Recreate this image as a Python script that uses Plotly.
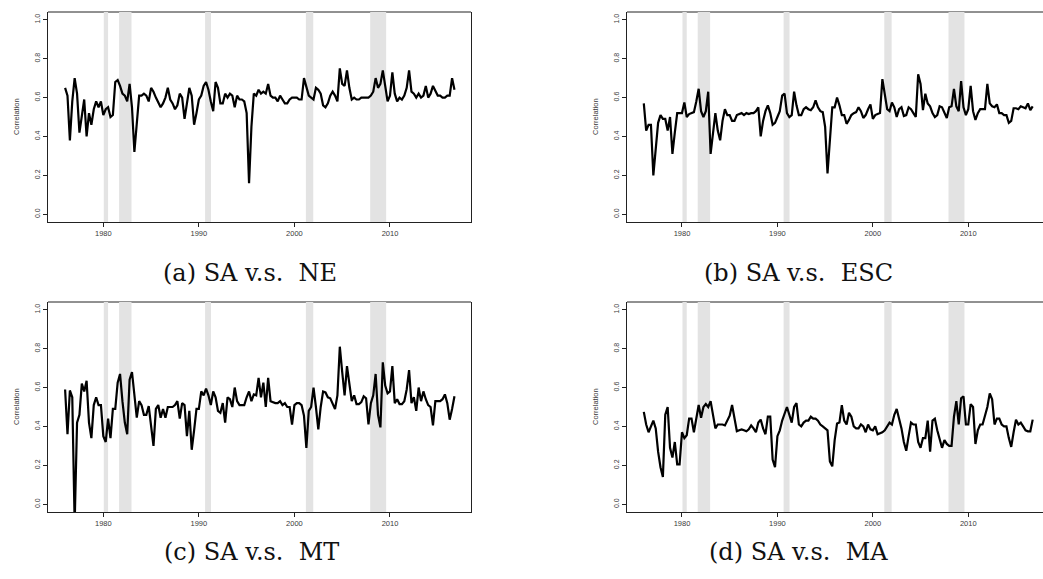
import numpy as np
import plotly.graph_objects as go

# Quarterly observations, 1976Q1 - 2016Q4
quarters = np.arange(1976.0, 2017.0, 0.25)

sa_ne = [0.65, 0.61, 0.38, 0.58, 0.70, 0.62, 0.42, 0.50, 0.59, 0.40,
         0.52, 0.46, 0.54, 0.58, 0.55, 0.58, 0.51, 0.54, 0.55, 0.50,
         0.51, 0.68, 0.69, 0.66, 0.62, 0.61, 0.58, 0.67, 0.55, 0.32,
         0.48, 0.61, 0.61, 0.62, 0.61, 0.58, 0.65, 0.63, 0.60, 0.57,
         0.55, 0.57, 0.60, 0.65, 0.59, 0.57, 0.54, 0.56, 0.62, 0.60,
         0.49, 0.57, 0.65, 0.61, 0.46, 0.52, 0.59, 0.61, 0.66, 0.68,
         0.64, 0.58, 0.53, 0.68, 0.65, 0.57, 0.57, 0.62, 0.60, 0.62,
         0.61, 0.55, 0.61, 0.59, 0.59, 0.58, 0.52, 0.16, 0.45, 0.62,
         0.61, 0.64, 0.62, 0.63, 0.62, 0.67, 0.61, 0.60, 0.60, 0.58,
         0.61, 0.59, 0.57, 0.57, 0.59, 0.60, 0.60, 0.60, 0.59, 0.59,
         0.70, 0.66, 0.61, 0.60, 0.59, 0.65, 0.64, 0.62, 0.56, 0.55,
         0.57, 0.61, 0.63, 0.61, 0.58, 0.75, 0.67, 0.66, 0.74, 0.65,
         0.59, 0.60, 0.59, 0.59, 0.60, 0.60, 0.60, 0.60, 0.61, 0.63,
         0.70, 0.65, 0.67, 0.74, 0.66, 0.58, 0.61, 0.73, 0.62, 0.58,
         0.60, 0.59, 0.61, 0.65, 0.74, 0.63, 0.62, 0.60, 0.62, 0.60,
         0.61, 0.66, 0.60, 0.62, 0.66, 0.63, 0.61, 0.61, 0.60, 0.60,
         0.61, 0.61, 0.70, 0.64]

sa_esc = [0.57, 0.43, 0.46, 0.46, 0.20, 0.36, 0.47, 0.51, 0.49, 0.49,
          0.43, 0.50, 0.31, 0.42, 0.52, 0.52, 0.52, 0.575, 0.50, 0.515,
          0.52, 0.525, 0.58, 0.645, 0.53, 0.50, 0.53, 0.63, 0.31, 0.42,
          0.52, 0.43, 0.38, 0.48, 0.54, 0.51, 0.51, 0.48, 0.48, 0.51,
          0.515, 0.52, 0.51, 0.52, 0.515, 0.52, 0.52, 0.53, 0.55, 0.40,
          0.48, 0.53, 0.56, 0.52, 0.46, 0.47, 0.50, 0.53, 0.61, 0.62,
          0.52, 0.50, 0.51, 0.63, 0.56, 0.51, 0.51, 0.54, 0.55, 0.54,
          0.535, 0.55, 0.585, 0.55, 0.53, 0.525, 0.45, 0.21, 0.38, 0.55,
          0.55, 0.60, 0.56, 0.51, 0.51, 0.465, 0.485, 0.51, 0.52, 0.525,
          0.55, 0.53, 0.495, 0.51, 0.54, 0.565, 0.49, 0.51, 0.515, 0.52,
          0.695, 0.61, 0.54, 0.53, 0.575, 0.55, 0.50, 0.54, 0.55, 0.505,
          0.51, 0.55, 0.54, 0.52, 0.50, 0.72, 0.67, 0.535, 0.62, 0.57,
          0.555, 0.52, 0.50, 0.51, 0.555, 0.55, 0.52, 0.495, 0.55, 0.555,
          0.645, 0.555, 0.53, 0.685, 0.55, 0.51, 0.54, 0.66, 0.53, 0.485,
          0.52, 0.54, 0.54, 0.54, 0.67, 0.57, 0.555, 0.55, 0.565, 0.52,
          0.52, 0.51, 0.51, 0.47, 0.48, 0.545, 0.545, 0.54, 0.555, 0.55,
          0.545, 0.57, 0.535, 0.555]

sa_mt = [0.59, 0.36, 0.585, 0.55, -0.10, 0.42, 0.46, 0.62, 0.58, 0.635,
         0.42, 0.34, 0.51, 0.55, 0.51, 0.51, 0.35, 0.32, 0.44, 0.34,
         0.49, 0.49, 0.625, 0.67, 0.53, 0.42, 0.36, 0.64, 0.68, 0.56,
         0.445, 0.53, 0.51, 0.46, 0.46, 0.505, 0.385, 0.30, 0.49, 0.51,
         0.445, 0.49, 0.445, 0.50, 0.50, 0.50, 0.51, 0.53, 0.44, 0.52,
         0.51, 0.35, 0.48, 0.28, 0.38, 0.49, 0.49, 0.58, 0.56, 0.595,
         0.56, 0.51, 0.58, 0.55, 0.48, 0.47, 0.52, 0.42, 0.55, 0.54,
         0.50, 0.60, 0.53, 0.51, 0.51, 0.51, 0.55, 0.58, 0.53, 0.565,
         0.56, 0.65, 0.55, 0.625, 0.50, 0.65, 0.53, 0.525, 0.52, 0.52,
         0.53, 0.51, 0.52, 0.50, 0.50, 0.41, 0.51, 0.52, 0.52, 0.51,
         0.455, 0.29, 0.48, 0.50, 0.60, 0.50, 0.385, 0.50, 0.58, 0.575,
         0.55, 0.545, 0.52, 0.49, 0.56, 0.81, 0.68, 0.56, 0.71, 0.61,
         0.53, 0.56, 0.515, 0.515, 0.525, 0.555, 0.545, 0.41, 0.52, 0.56,
         0.67, 0.46, 0.395, 0.73, 0.61, 0.57, 0.58, 0.71, 0.52, 0.54,
         0.515, 0.515, 0.53, 0.59, 0.69, 0.52, 0.55, 0.48, 0.60, 0.53,
         0.58, 0.54, 0.51, 0.50, 0.405, 0.53, 0.53, 0.53, 0.54, 0.565,
         0.52, 0.435, 0.49, 0.555]

sa_ma = [0.475, 0.41, 0.37, 0.40, 0.43, 0.39, 0.27, 0.19, 0.14, 0.46,
         0.50, 0.29, 0.24, 0.32, 0.205, 0.205, 0.37, 0.34, 0.355, 0.44,
         0.44, 0.37, 0.45, 0.51, 0.445, 0.50, 0.515, 0.50, 0.53, 0.45,
         0.39, 0.41, 0.41, 0.41, 0.405, 0.43, 0.455, 0.51, 0.43, 0.375,
         0.38, 0.385, 0.38, 0.375, 0.385, 0.405, 0.39, 0.37, 0.42, 0.435,
         0.39, 0.36, 0.45, 0.45, 0.23, 0.19, 0.35, 0.38, 0.43, 0.47,
         0.50, 0.46, 0.42, 0.50, 0.52, 0.41, 0.40, 0.42, 0.43, 0.43,
         0.45, 0.44, 0.44, 0.43, 0.41, 0.40, 0.39, 0.38, 0.22, 0.195,
         0.33, 0.415, 0.42, 0.51, 0.43, 0.41, 0.47, 0.45, 0.40, 0.39,
         0.39, 0.41, 0.40, 0.37, 0.41, 0.385, 0.38, 0.40, 0.36, 0.365,
         0.37, 0.38, 0.40, 0.42, 0.41, 0.46, 0.49, 0.44, 0.39, 0.32,
         0.275, 0.35, 0.42, 0.41, 0.41, 0.32, 0.29, 0.34, 0.34, 0.43,
         0.27, 0.43, 0.44, 0.38, 0.33, 0.29, 0.33, 0.31, 0.30, 0.30,
         0.45, 0.53, 0.41, 0.545, 0.555, 0.41, 0.41, 0.515, 0.50, 0.31,
         0.38, 0.41, 0.41, 0.46, 0.50, 0.57, 0.54, 0.41, 0.44, 0.44,
         0.41, 0.40, 0.40, 0.34, 0.295, 0.37, 0.435, 0.41, 0.42, 0.40,
         0.38, 0.375, 0.375, 0.435]

captions = ["(a) SA v.s.\u00a0 NE", "(b) SA v.s.\u00a0 ESC",
            "(c) SA v.s.\u00a0 MT", "(d) SA v.s.\u00a0 MA"]

rec_start = [1980.05, 1981.65, 1990.65, 2001.2, 2007.93]
rec_end = [1980.5, 1982.95, 1991.27, 2001.97, 2009.6]

x_ticks = [1980, 1990, 2000, 2010]
y_ticks = [0.0, 0.2, 0.4, 0.6, 0.8, 1.0]
y_labels = ["0.0", "0.2", "0.4", "0.6", "0.8", "1.0"]

W, H = 1043, 579
AX = "#222222"
TXT = "#3a3a3a"

# series, x0, x1, y0, y1 (pixels), x range, right frame, caption centre
panels = [
    (sa_ne, 48, 471, 12, 222, [1974.21, 2018.48], True, 250, 273),
    (sa_esc, 627, 1043, 12, 222, [1974.24, 2017.83], False, 798, 273),
    (sa_mt, 48, 471, 302, 512, [1974.21, 2018.48], True, 251, 552),
    (sa_ma, 627, 1043, 302, 512, [1974.24, 2017.83], False, 798, 552),
]

fig = go.Figure()
layout = {}
shapes = []
annotations = []

for i, (series, x0, x1, y0, y1, xr, right, cx, cy) in enumerate(panels):
    k = "" if i == 0 else str(i + 1)
    fig.add_trace(go.Scatter(
        x=quarters, y=series, mode="lines",
        line=dict(color="black", width=2.2),
        xaxis="x" + k, yaxis="y" + k, showlegend=False, hoverinfo="skip"))
    layout["xaxis" + k] = dict(
        domain=[x0 / W, x1 / W], range=xr, anchor="y" + k,
        showline=True, linecolor=AX, linewidth=1, mirror=False,
        ticks="outside", ticklen=4, tickcolor=AX, tickwidth=1,
        tickvals=x_ticks, showgrid=False, zeroline=False,
        tickfont=dict(family="Liberation Sans", size=7.5, color=TXT))
    layout["yaxis" + k] = dict(
        domain=[1 - y1 / H, 1 - y0 / H], range=[-0.04, 1.04], anchor="x" + k,
        showline=True, linecolor=AX, linewidth=1, mirror=right,
        ticks="outside", ticklen=4, tickcolor=AX, tickwidth=1,
        tickvals=y_ticks, ticktext=y_labels, tickangle=-90,
        showgrid=False, zeroline=False,
        tickfont=dict(family="Liberation Sans", size=7, color=TXT))
    # top frame line (drawn beneath the recession bands)
    shapes.append(dict(type="line", xref="x" + k + " domain", yref="y" + k + " domain",
                       x0=0, x1=1, y0=1, y1=1, layer="below",
                       line=dict(color=AX, width=1)))
    for s, e in zip(rec_start, rec_end):
        shapes.append(dict(type="rect", xref="x" + k, yref="y" + k + " domain",
                           x0=s, x1=e, y0=0, y1=1, layer="below",
                           fillcolor="#e3e3e3", line=dict(width=0)))
    annotations.append(dict(text="Correlation", xref="paper", yref="paper",
                            x=(x0 - 32) / W, y=1 - (y0 + y1) / 2 / H,
                            xanchor="center", yanchor="middle", textangle=-90,
                            showarrow=False,
                            font=dict(family="Liberation Sans", size=7.5, color=TXT)))
    annotations.append(dict(text=captions[i], xref="paper", yref="paper",
                            x=cx / W, y=1 - cy / H, xanchor="center", yanchor="middle",
                            showarrow=False,
                            font=dict(family="DejaVu Serif", size=24, color="#111111")))

fig.update_layout(
    width=W, height=H, margin=dict(l=0, r=0, t=0, b=0),
    paper_bgcolor="white", plot_bgcolor="white",
    shapes=shapes, annotations=annotations, **layout)

fig.write_html("out.html")
